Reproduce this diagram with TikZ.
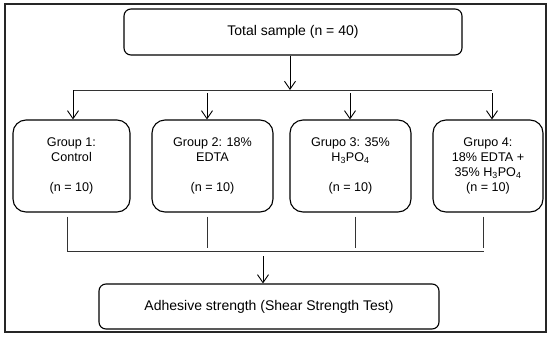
\documentclass[tikz,border=0pt]{standalone}
\usepackage{fontspec}
\setmainfont{Liberation Sans}
\usetikzlibrary{arrows.meta}
\tikzset{
  bigbox/.style={draw, line width=1.1pt, rounded corners=7pt, align=center, inner sep=0pt, font=\fontsize{14}{16}\selectfont},
  grpbox/.style={draw, line width=1.1pt, rounded corners=13pt, align=center, inner sep=0pt, minimum height=92pt, font=\fontsize{12.6}{15}\selectfont},
  arr/.style={line width=0.9pt, -{Straight Barb[length=8pt,width=11pt]}},
  thin/.style={line width=0.7pt, draw=black!80}
}
\begin{document}
\begin{tikzpicture}[x=1pt,y=-1pt]
\useasboundingbox (0,0) rectangle (550,338);
\draw[line width=1.4pt, draw=black!85] (5,4) rectangle (546,332);

\node[bigbox, minimum width=338pt, minimum height=46pt] (top) at (293,32) {Total sample (n = 40)};

\node[grpbox, minimum width=117pt] (g1) at (71.5,166) {Group 1:\\Control\\[15pt](n = 10)};
\node[grpbox, minimum width=121pt] (g2) at (212.5,166) {Group 2: 18\%\\EDTA\\[15pt](n = 10)};
\node[grpbox, minimum width=121pt] (g3) at (350.5,166) {Grupo 3: 35\%\\H\textsubscript{3}PO\textsubscript{4}\\[15pt](n = 10)};
\node[grpbox, minimum width=110pt] (g4) at (488,166) {Grupo 4:\\18\% EDTA +\\35\% H\textsubscript{3}PO\textsubscript{4}\\(n = 10)};

\node[bigbox, minimum width=340pt, minimum height=45pt] (bot) at (269,306.5) {Adhesive strength (Shear Strength Test)};

% upper distribution
\coordinate (j) at (290,90);
\coordinate (l1) at (73,90);
\coordinate (l4) at (492,90);
\coordinate (a2) at (207,93);
\coordinate (a3) at (350,93);
\coordinate (a4) at (492,93);
\draw[arr] (j |- top.south) -- (j);
\draw[thin] (l1) -- (l4);
\draw[arr] (l1) -- (l1 |- g1.north);
\draw[arr] (a2) -- (a2 |- g2.north);
\draw[arr] (a3) -- (a3 |- g3.north);
\draw[arr] (a4) -- (a4 |- g4.north);

% lower collection
\coordinate (b1) at (67,251);
\coordinate (b2) at (207,248);
\coordinate (b3) at (355,248);
\coordinate (b4) at (483,248);
\coordinate (b5) at (484,251);
\coordinate (k) at (263,256);
\draw[thin] (b1 |- g1.south) ++(0,4) -- (b1);
\draw[thin] (b2 |- g2.south) ++(0,4) -- (b2);
\draw[thin] (b3 |- g3.south) ++(0,4) -- (b3);
\draw[thin] (b4 |- g4.south) ++(0,4) -- (b4);
\draw[thin] (b1) -- (b5);
\draw[arr] (k) -- (k |- bot.north);
\end{tikzpicture}
\end{document}
